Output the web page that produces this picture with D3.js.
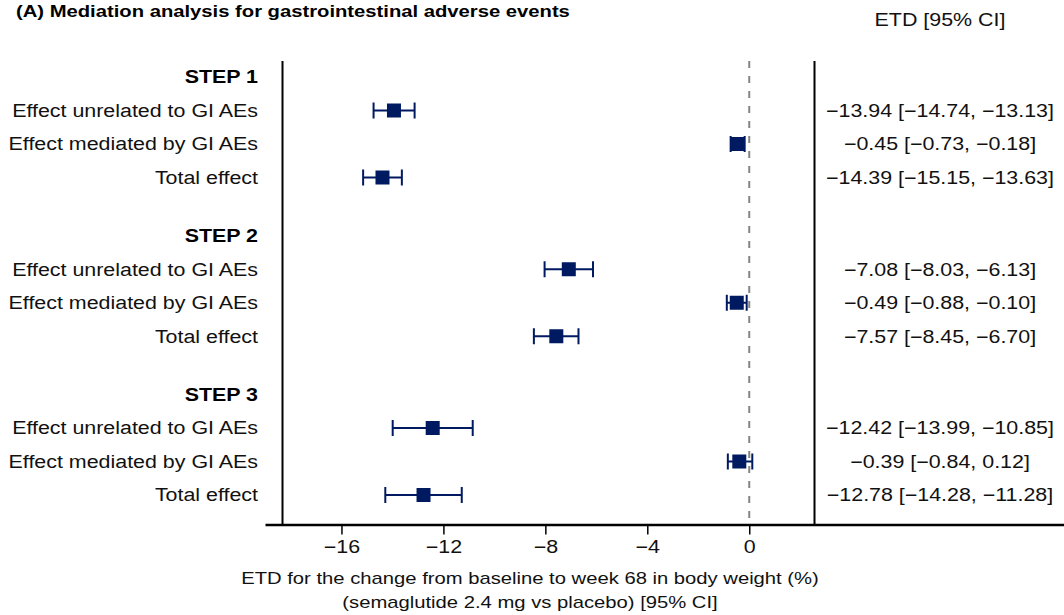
<!DOCTYPE html>
<html>
<head>
<meta charset="utf-8">
<script src="https://cdn.jsdelivr.net/npm/d3@7"></script>
<style>
  html, body { margin: 0; padding: 0; background: #fff; }
  svg { display: block; font-family: "Liberation Sans", Arial, Helvetica, sans-serif; }
</style>
</head>
<body>
<svg id="chart" width="1064" height="615"></svg>
<script>
// ---- data ----
const steps = ["STEP 1", "STEP 2", "STEP 3"];
const rowLabels = ["Effect unrelated to GI AEs", "Effect mediated by GI AEs", "Total effect"];
const estimates = [
  [-13.94, -0.45, -14.39],
  [-7.08, -0.49, -7.57],
  [-12.42, -0.39, -12.78]
];
const lower = [
  [-14.74, -0.73, -15.15],
  [-8.03, -0.88, -8.45],
  [-13.99, -0.84, -14.28]
];
const upper = [
  [-13.13, -0.18, -13.63],
  [-6.13, -0.10, -6.70],
  [-10.85, 0.12, -11.28]
];
const tickValues = [-16, -12, -8, -4, 0];
const titleText = "(A) Mediation analysis for gastrointestinal adverse events";
const columnHeader = "ETD [95% CI]";
const axisTitle = ["ETD for the change from baseline to week 68 in body weight (%)",
                   "(semaglutide 2.4 mg vs placebo) [95% CI]"];

// ---- layout ----
const W = 1064, H = 615;
const axisY = 524.5;
const plotTop = 61;
const leftLineX = 282.5, rightLineX = 814.5;
const labelX = 258, ciX = 940;
const color = "#001a62";
const fs = 18;
const SX = 1.19; // horizontal text stretch

const svg = d3.select("#chart");

const x = d3.scaleLinear().domain([-19, 12.35]).range([265, 1064]);
const groupStep = 158.75, rowStep = 33.5, firstY = 77;
const yPos = (g, i) => firstY + g * groupStep + i * rowStep;

const rows = [];
steps.forEach((s, g) => {
  rowLabels.forEach((lab, i) => {
    rows.push({ g, i, label: lab, est: estimates[g][i], lo: lower[g][i], hi: upper[g][i] });
  });
});

function addText(parent, tx, ty, str, opts) {
  opts = opts || {};
  return parent.append("text")
    .attr("transform", `translate(${tx},${ty}) scale(${SX},1)`)
    .attr("dy", opts.dy || "0.35em")
    .attr("text-anchor", opts.anchor || "start")
    .attr("font-size", opts.size || fs)
    .attr("font-weight", opts.weight || "normal")
    .attr("fill", opts.fill || "#111")
    .text(str);
}

// title
addText(svg, 16, 17, titleText, { dy: "0", size: 17, weight: "bold", fill: "#000" });

// column header
addText(svg, ciX, 20, columnHeader, { anchor: "middle" });

// vertical frame lines
svg.append("line").attr("x1", leftLineX).attr("x2", leftLineX)
  .attr("y1", plotTop).attr("y2", axisY).attr("stroke", "#000").attr("stroke-width", 2);
svg.append("line").attr("x1", rightLineX).attr("x2", rightLineX)
  .attr("y1", plotTop).attr("y2", axisY).attr("stroke", "#000").attr("stroke-width", 2);

// reference line at 0
svg.append("line").attr("x1", x(0)).attr("x2", x(0))
  .attr("y1", plotTop).attr("y2", axisY)
  .attr("stroke", "#858585").attr("stroke-width", 2).attr("stroke-dasharray", "7,8");

// x axis
const axis = d3.axisBottom(x).tickValues(tickValues).tickSizeOuter(0).tickSizeInner(10).tickPadding(6)
  .tickFormat(d3.format("d"));
const gAxis = svg.append("g").attr("transform", `translate(0,${axisY})`).call(axis);
gAxis.select(".domain").attr("stroke", "#000").attr("stroke-width", 2.5);
gAxis.selectAll(".tick line").attr("stroke", "#000").attr("stroke-width", 1.5);
gAxis.selectAll(".tick text").attr("font-size", fs).attr("fill", "#111")
  .attr("transform", `scale(${SX},1)`)
  .attr("font-family", "\"Liberation Sans\", Arial, Helvetica, sans-serif");

// axis title
axisTitle.forEach((t, k) => {
  addText(svg, 530, 578 + k * 24.5, t, { anchor: "middle", size: 17 });
});

// step headers
steps.forEach((s, g) => {
  addText(svg, labelX, yPos(g, 0), s, { anchor: "end", weight: "bold", fill: "#000" });
});

// row labels and CI text
const f2 = d3.format(".2f");
rows.forEach(d => {
  const yy = yPos(d.g, d.i + 1);
  addText(svg, labelX, yy, d.label, { anchor: "end" });
  addText(svg, ciX, yy, `${f2(d.est)} [${f2(d.lo)}, ${f2(d.hi)}]`, { anchor: "middle" });
});

// error bars
const capH = 8, sq = 14;
const marks = svg.selectAll("g.mark").data(rows).enter().append("g").attr("class", "mark")
  .attr("transform", d => `translate(0,${yPos(d.g, d.i + 1)})`);
marks.append("line").attr("x1", d => x(d.lo)).attr("x2", d => x(d.hi))
  .attr("y1", 0).attr("y2", 0).attr("stroke", color).attr("stroke-width", 2);
marks.append("line").attr("x1", d => x(d.lo)).attr("x2", d => x(d.lo))
  .attr("y1", -capH).attr("y2", capH).attr("stroke", color).attr("stroke-width", 2);
marks.append("line").attr("x1", d => x(d.hi)).attr("x2", d => x(d.hi))
  .attr("y1", -capH).attr("y2", capH).attr("stroke", color).attr("stroke-width", 2);
marks.append("rect").attr("x", d => x(d.est) - sq / 2).attr("y", -sq / 2)
  .attr("width", sq).attr("height", sq).attr("fill", color);
</script>
</body>
</html>
